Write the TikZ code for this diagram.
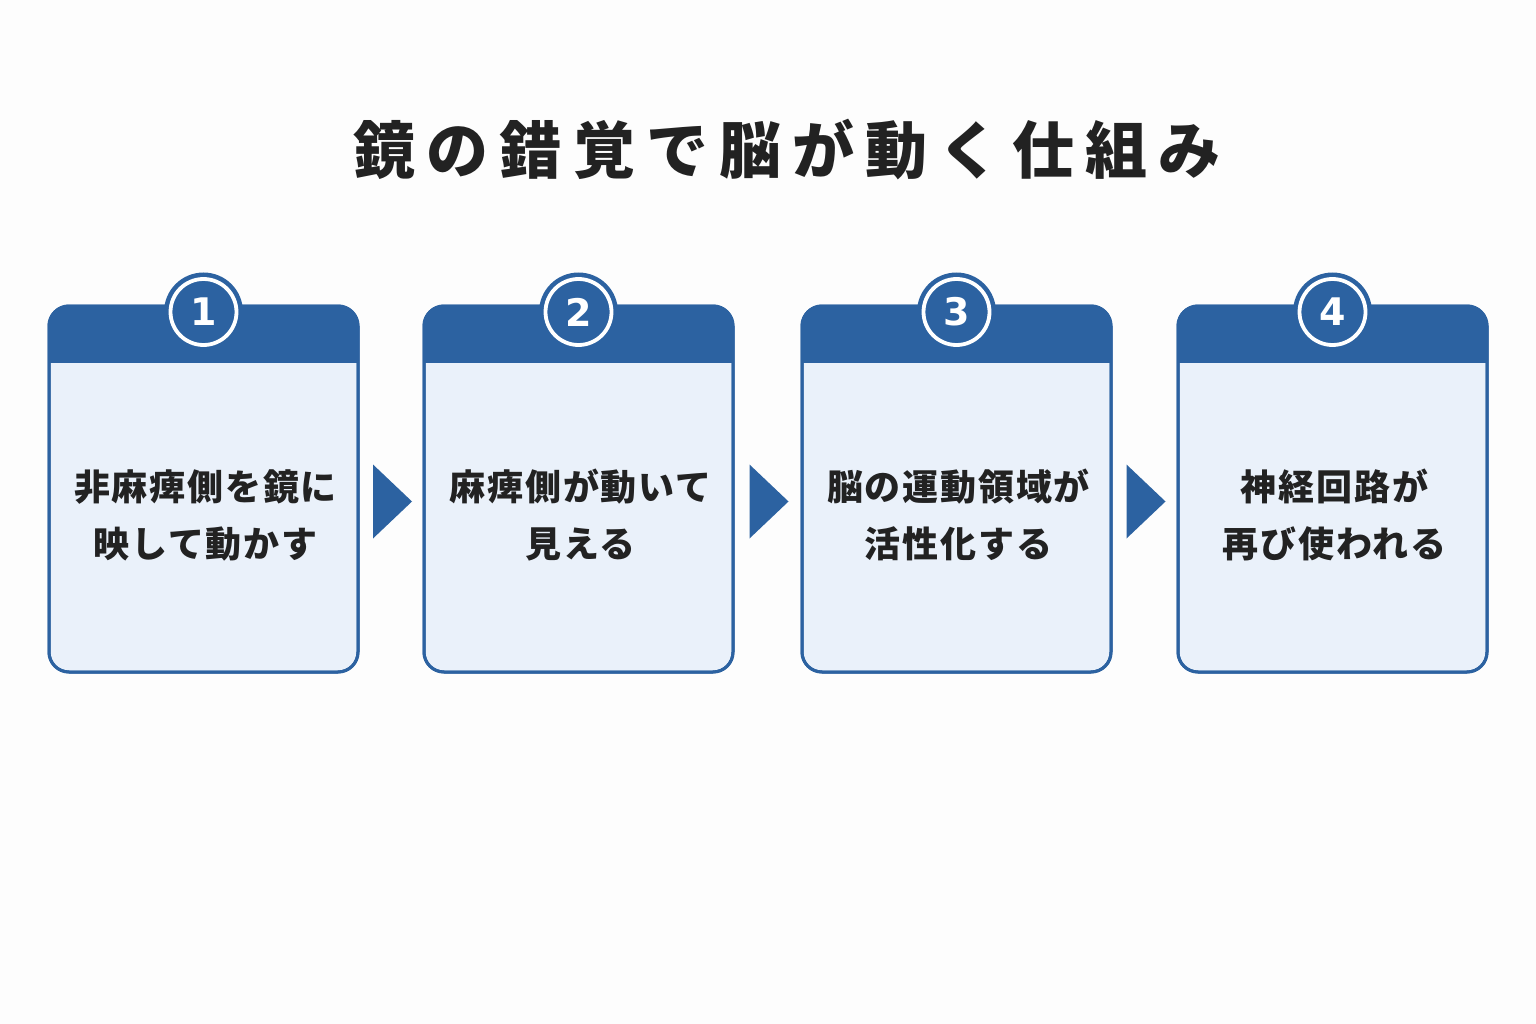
\documentclass[tikz,border=0pt]{standalone}
\usepackage{fontspec}
\usetikzlibrary{calc}
\setmainfont{Noto Sans CJK JP}
\newfontfamily\titlefont[LetterSpace=18]{Noto Sans CJK JP}
\newfontfamily\bodyfont[LetterSpace=5]{Noto Sans CJK JP}
\newfontfamily\numfont{DejaVu Sans}
\definecolor{bgc}{HTML}{FDFDFD}
\definecolor{blu}{HTML}{2C62A1}
\definecolor{cardfill}{HTML}{EAF1FA}
\definecolor{ink}{HTML}{222222}
\tikzset{
  card/.style={draw=blu, line width=3pt, fill=cardfill, rounded corners=20pt,
    minimum width=309pt, minimum height=366pt, inner sep=0pt, outer sep=0pt, anchor=north west},
  badge/.style={circle, fill=blu, minimum size=79pt, inner sep=0pt},
  ring/.style={circle, draw=white, line width=3.8pt, minimum size=66pt, inner sep=0pt,
    text=white, font=\numfont\bfseries\fontsize{38}{38}\selectfont},
  body/.style={text=ink, align=center, font=\bodyfont\bfseries\fontsize{36}{57}\selectfont},
  ttl/.style={text=ink, font=\titlefont\bfseries\fontsize{62}{62}\selectfont},
  tri/.style={fill=blu}
}
\begin{document}
\begin{tikzpicture}[x=1pt,y=-1pt]
\fill[bgc] (0,0) rectangle (1536,1024);
\useasboundingbox (0,0) rectangle (1536,1024);
\node[ttl] (title) at (787,150) {鏡の錯覚で脳が動く仕組み};
% cards
\foreach \i/\x/\n/\t in {1/49/1/{非麻痺側を鏡に\\映して動かす},
                         2/424/2/{麻痺側が動いて\\見える},
                         3/802/3/{脳の運動領域が\\活性化する},
                         4/1178/4/{神経回路が\\再び使われる}}{
  \node[card] (c\i) at (\x,306) {};
  \begin{scope}
    \clip (\x-3,302) rectangle (\x+313,362);
    \fill[blu, rounded corners=20pt] (c\i.north west) rectangle (c\i.south east);
  \end{scope}
  \draw[blu, line width=3pt, rounded corners=20pt] (c\i.north west) rectangle (c\i.south east);
  \node[badge] (b\i) at ([yshift=-6pt]c\i.north) {};
  \node[ring] (r\i) at (b\i) {\n};
  \node[body] (t\i) at ([yshift=-26pt,xshift=2pt]c\i.center) {\t};
}
% arrows between cards
\foreach \a/\b in {1/2,2/3,3/4}{
  \coordinate (m\a) at ($(c\a.east)!0.5!(c\b.west) + (0,12.5)$);
  \fill[tri] ($(m\a)+(-18,-37)$) -- ($(m\a)+(21,0)$) -- ($(m\a)+(-18,37)$) -- cycle;
}
\end{tikzpicture}
\end{document}
